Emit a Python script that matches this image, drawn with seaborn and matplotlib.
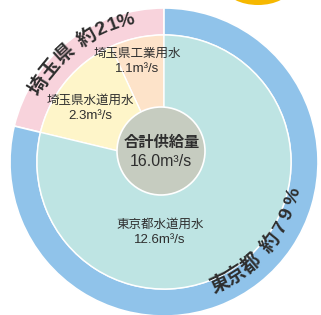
import numpy as np
import matplotlib
matplotlib.use("Agg")
import matplotlib.pyplot as plt
from matplotlib.patches import Circle, Ellipse
import seaborn as sns

# ---- data ----
inner_labels = ["埼玉県工業用水", "埼玉県水道用水", "東京都水道用水"]
inner_values = [1.1, 2.3, 12.6]
outer_labels = ["埼玉県", "東京都"]
outer_values = [3.4, 12.6]
outer_pct = ["約21%", "約79%"]
total_label = "合計供給量"
total_value = 16.0

# ---- style ----
sns.set_theme(style="white")
plt.rcParams['font.family'] = ['Liberation Sans', 'Noto Sans CJK JP', 'DejaVu Sans']

W, H = 321, 315
fig = plt.figure(figsize=(W / 100, H / 100), dpi=100)
ax = fig.add_axes([0, 0, 1, 1])

cx, cy = 164, H - 162
R_out, R_in = 154, 127

outer_colors = ["#f8d3dc", "#90c3ea"]
inner_colors = ["#fde3c9", "#fef5c9", "#bee4e3"]

ax.pie(outer_values, radius=R_out, center=(cx, cy), startangle=90,
       counterclock=True, colors=outer_colors,
       wedgeprops=dict(width=R_out - R_in, edgecolor="white", linewidth=1.2))
ax.pie(inner_values, radius=R_in, center=(cx, cy), startangle=90,
       counterclock=True, colors=inner_colors,
       wedgeprops=dict(edgecolor="white", linewidth=1.0))

# centre disc
ax.add_patch(Circle((161, H - 151), 44, facecolor="#c6ccc0",
                    edgecolor="white", linewidth=1.2, zorder=5))

# yellow decoration top-right
ax.add_patch(Ellipse((258, H + 12), 64, 34, facecolor="#f6b800",
                     edgecolor="none", zorder=6, clip_on=True))

tc = "#2e2e2e"
def unit(v):
    return f"{v:.1f}m³/s"

# centre text
ax.text(162, H - 143, total_label, ha="center", va="center", fontsize=11,
        fontweight="bold", color=tc, zorder=7)
ax.text(161, H - 162, unit(total_value), ha="center", va="center",
        fontsize=11.5, color=tc, zorder=7)

# inner wedge labels
inner_pos = [(137, 54, 69), (90, 101, 116), (160, 225, 240)]
for lab, val, (x, y1, y2) in zip(inner_labels, inner_values, inner_pos):
    ax.text(x, H - y1, lab, ha="center", va="center", fontsize=9,
            color=tc, zorder=7)
    ax.text(x, H - y2, unit(val), ha="center", va="center", fontsize=9.5,
            color=tc, zorder=7)

# curved outer labels
saitama_chars = list(outer_labels[0]) + list(outer_pct[0])
saitama_angles = [148.3, 140.7, 132.6, 121.8, 115.3, 110.4, 105.4]
tokyo_chars = list(outer_labels[1]) + list(outer_pct[1])
tokyo_angles = [-65.3, -57.6, -49.5, -37.2, -29.4, -22.8, -15.0]

def curved(chars, angles, r, top_out):
    for ch, a in zip(chars, angles):
        t = np.deg2rad(a)
        x = cx + r * np.cos(t)
        y = cy + r * np.sin(t)
        rot = a - 90 if top_out else a + 90
        ax.text(x, y, ch, rotation=rot, rotation_mode="anchor",
                ha="center", va="center", fontsize=14, fontweight="bold",
                color=tc, zorder=8)

curved(saitama_chars, saitama_angles, 146, True)
curved(tokyo_chars, tokyo_angles, 134, False)

ax.set_xlim(0, W)
ax.set_ylim(0, H)
ax.set_aspect("equal")
ax.axis("off")
fig.savefig("out.png", dpi=100, facecolor="white")
